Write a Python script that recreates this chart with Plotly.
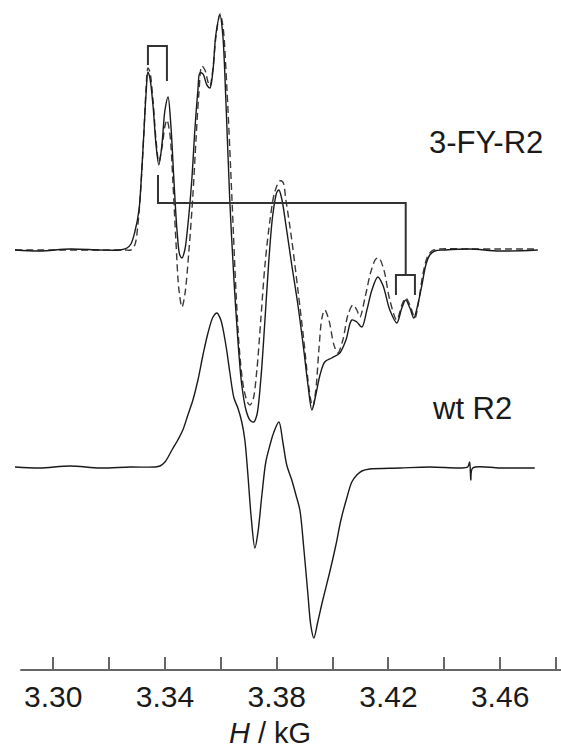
import plotly.graph_objects as go

# ---- EPR derivative spectra (field in kG, signal in arbitrary units) ----
# 3-FY-R2, experimental
fy_field = [3.2863, 3.2952, 3.3060, 3.3167, 3.3239, 3.3264, 3.3278, 3.3292, 3.3307, 3.3317,
            3.3325, 3.3332, 3.3339, 3.3346, 3.3357, 3.3368, 3.3378, 3.3389, 3.3400, 3.3411,
            3.3421, 3.3432, 3.3443, 3.3453, 3.3461, 3.3471, 3.3482, 3.3496, 3.3507, 3.3518,
            3.3525, 3.3536, 3.3550, 3.3561, 3.3572, 3.3582, 3.3597, 3.3607, 3.3618, 3.3632,
            3.3647, 3.3661, 3.3675, 3.3690, 3.3704, 3.3718, 3.3729, 3.3743, 3.3758, 3.3772,
            3.3786, 3.3801, 3.3808, 3.3819, 3.3833, 3.3854, 3.3876, 3.3897, 3.3912, 3.3926,
            3.3940, 3.3955, 3.3972, 3.3997, 3.4026, 3.4048, 3.4069, 3.4087, 3.4105, 3.4123,
            3.4141, 3.4162, 3.4180, 3.4205, 3.4230, 3.4248, 3.4262, 3.4277, 3.4291, 3.4305,
            3.4320, 3.4334, 3.4348, 3.4366, 3.4402, 3.4491, 3.4599, 3.4735]
fy_signal = [0.0, -0.1, 0.1, 0.0, 0.0, 0.2, 0.6, 1.8, 4.0, 8.0,
             12.0, 15.5, 17.8, 17.2, 14.5, 10.5, 8.5, 10.5, 14.0, 15.3,
             12.5, 7.0, 2.0, -0.5, -0.8, 0.0, 2.5, 7.0, 12.0, 16.0,
             17.7, 17.6, 16.5, 16.2, 18.0, 21.5, 23.5, 21.5, 15.0, 5.0,
             -3.0, -9.0, -13.5, -16.0, -17.0, -17.2, -16.5, -13.0, -7.0, -1.0,
             3.5, 5.8, 6.0, 5.0, 2.5, -1.5, -5.5, -10.0, -13.5, -16.0,
             -14.5, -12.5, -11.2, -10.8, -10.3, -9.0, -7.0, -7.2, -7.7, -6.0,
             -4.0, -2.7, -3.5, -6.0, -7.3, -5.8, -5.0, -5.8, -6.8, -5.5,
             -3.5, -1.5, -0.5, -0.1, 0.0, 0.1, -0.1, 0.0]

# 3-FY-R2, simulation
sim_field = [3.2863, 3.3024, 3.3167, 3.3257, 3.3278, 3.3292, 3.3303, 3.3314, 3.3325, 3.3332,
             3.3339, 3.3346, 3.3357, 3.3368, 3.3378, 3.3389, 3.3400, 3.3407, 3.3418, 3.3428,
             3.3439, 3.3450, 3.3461, 3.3471, 3.3486, 3.3500, 3.3511, 3.3521, 3.3532, 3.3543,
             3.3554, 3.3561, 3.3572, 3.3582, 3.3597, 3.3607, 3.3622, 3.3640, 3.3654, 3.3668,
             3.3683, 3.3697, 3.3704, 3.3715, 3.3729, 3.3743, 3.3758, 3.3776, 3.3793, 3.3811,
             3.3822, 3.3833, 3.3854, 3.3876, 3.3897, 3.3912, 3.3922, 3.3929, 3.3940, 3.3951,
             3.3962, 3.3972, 3.3987, 3.4005, 3.4019, 3.4037, 3.4055, 3.4073, 3.4087, 3.4098,
             3.4116, 3.4137, 3.4155, 3.4166, 3.4184, 3.4205, 3.4230, 3.4248, 3.4262, 3.4277,
             3.4295, 3.4309, 3.4323, 3.4338, 3.4355, 3.4384, 3.4491, 3.4599, 3.4735]
sim_signal = [0.0, 0.0, 0.0, 0.0, 0.0, 0.5, 2.5, 6.5, 12.0, 16.0,
              18.2, 17.8, 15.0, 11.0, 8.8, 10.2, 12.4, 13.0, 11.5, 7.0,
              1.0, -4.0, -5.7, -4.5, 0.0, 5.5, 11.0, 15.5, 18.4, 18.0,
              16.8, 16.4, 18.2, 21.2, 23.6, 22.5, 16.0, 5.0, -4.0, -10.5,
              -14.0, -15.3, -15.5, -15.0, -12.0, -7.0, -1.5, 3.0, 5.8, 6.9,
              6.8, 5.0, 1.0, -4.0, -9.0, -13.0, -15.0, -15.7, -14.0, -10.0,
              -6.8, -6.0, -7.0, -9.5, -10.3, -9.0, -6.5, -5.5, -6.0, -6.7,
              -4.8, -2.2, -0.9, -0.8, -2.0, -5.0, -7.0, -5.5, -4.8, -5.5,
              -6.8, -5.0, -2.5, -0.8, -0.1, 0.1, 0.1, 0.1, 0.1]

# wild-type R2, experimental
wt_field = [3.2863, 3.2952, 3.3060, 3.3167, 3.3275, 3.3364, 3.3382, 3.3400, 3.3425, 3.3446,
            3.3464, 3.3482, 3.3500, 3.3518, 3.3536, 3.3554, 3.3572, 3.3586, 3.3600, 3.3618,
            3.3632, 3.3647, 3.3661, 3.3675, 3.3686, 3.3697, 3.3708, 3.3722, 3.3733, 3.3747,
            3.3761, 3.3776, 3.3790, 3.3808, 3.3822, 3.3836, 3.3854, 3.3869, 3.3883, 3.3897,
            3.3912, 3.3922, 3.3933, 3.3947, 3.3965, 3.3990, 3.4012, 3.4030, 3.4051, 3.4069,
            3.4087, 3.4105, 3.4133, 3.4241, 3.4348, 3.4456, 3.4484, 3.4491, 3.4495, 3.4502,
            3.4599, 3.4724]
wt_signal = [0.1, 0.0, 0.2, 0.0, 0.1, 0.1, 0.2, 0.6, 1.8, 2.8,
             3.8, 5.3, 6.8, 8.8, 11.3, 13.5, 15.1, 15.5, 14.8, 12.3,
             9.6, 7.0, 6.0, 4.6, 2.8, -0.7, -4.7, -8.0, -6.4, -2.7,
             0.6, 2.3, 3.6, 4.6, 2.6, 0.3, -1.2, -2.7, -4.2, -8.0,
             -12.7, -15.7, -17.0, -15.4, -13.2, -10.4, -7.7, -5.2, -3.0, -1.4,
             -0.7, -0.3, -0.1, 0.0, 0.1, 0.0, 0.1, 0.6, -1.2, 0.0,
             0.0, 0.0]

# vertical stacking of the two spectra
FY_OFFSET = 42.0
WT_OFFSET = 20.2

# splitting brackets: low-field doublet, high-field doublet and connector
low_doublet = [3.3339, 3.3407]
high_doublet = [3.4227, 3.4295]
connector_field = [3.3375, 3.4262]

tick_vals = [3.30, 3.34, 3.38, 3.42, 3.46]

FONT = "Liberation Sans, Arial, sans-serif"
INK = "#1a1a1a"

fig = go.Figure()

fig.add_trace(go.Scatter(
    x=sim_field, y=[v + FY_OFFSET for v in sim_signal], mode="lines",
    line=dict(color="#3a3a3a", width=1.4, dash="7px,4px", shape="spline", smoothing=0.9),
    hoverinfo="skip", showlegend=False))
fig.add_trace(go.Scatter(
    x=fy_field, y=[v + FY_OFFSET for v in fy_signal], mode="lines",
    line=dict(color=INK, width=1.4, shape="spline", smoothing=0.9),
    hoverinfo="skip", showlegend=False))
fig.add_trace(go.Scatter(
    x=wt_field, y=[v + WT_OFFSET for v in wt_signal], mode="lines",
    line=dict(color=INK, width=1.4, shape="spline", smoothing=0.9),
    hoverinfo="skip", showlegend=False))

# bracket drawing (levels in the same signal units above the axis)
top_y, left_leg, right_leg = 62.4, 60.5, 58.9
conn_top, conn_y, conn_bot = 49.5, 46.7, 39.5
small_leg = 37.5
bx = [low_doublet[0], low_doublet[0], low_doublet[1], low_doublet[1], None,
      connector_field[0], connector_field[0], connector_field[1], connector_field[1], None,
      high_doublet[0], high_doublet[0], high_doublet[1], high_doublet[1]]
by = [left_leg, top_y, top_y, right_leg, None,
      conn_top, conn_y, conn_y, conn_bot, None,
      small_leg, conn_bot, conn_bot, small_leg]
fig.add_trace(go.Scatter(x=bx, y=by, mode="lines",
                         line=dict(color="#333333", width=2),
                         hoverinfo="skip", showlegend=False))

# axis baseline
fig.add_shape(type="line", xref="x", yref="paper", x0=3.2882, x1=3.4818, y0=0, y1=0,
              line=dict(color="#666666", width=2))

fig.add_annotation(text="3-FY-R2", xref="paper", yref="paper", x=0.8626, y=0.788,
                   xanchor="center", yanchor="middle",
                   showarrow=False, font=dict(family=FONT, size=31, color=INK))
fig.add_annotation(text="wt R2", xref="paper", yref="paper", x=0.837, y=0.391,
                   xanchor="center", yanchor="middle",
                   showarrow=False, font=dict(family=FONT, size=31, color=INK))
fig.add_annotation(text="<i>H</i> / kG", xref="paper", yref="paper", x=0.467, y=-0.1194,
                   xanchor="center", yanchor="bottom", borderpad=0,
                   showarrow=False, font=dict(family=FONT, size=29, color=INK))

fig.update_layout(
    width=561, height=750,
    margin=dict(l=15, r=0, t=0, b=80),
    paper_bgcolor="white", plot_bgcolor="white",
    xaxis=dict(range=[3.2863, 3.4818], showgrid=False, zeroline=False, showline=False,
               tickvals=tick_vals, tickformat=".2f", ticks="inside", ticklen=13,
               tickwidth=1.5, tickcolor="#666666", ticklabelstandoff=6,
               minor=dict(dtick=0.02, tick0=3.30, ticks="inside", ticklen=13,
                          tickwidth=1.5, tickcolor="#666666", showgrid=False),
               tickfont=dict(family=FONT, size=30, color=INK)),
    yaxis=dict(range=[0, 67], visible=False, showgrid=False, zeroline=False),
)

fig.write_html("out.html")
